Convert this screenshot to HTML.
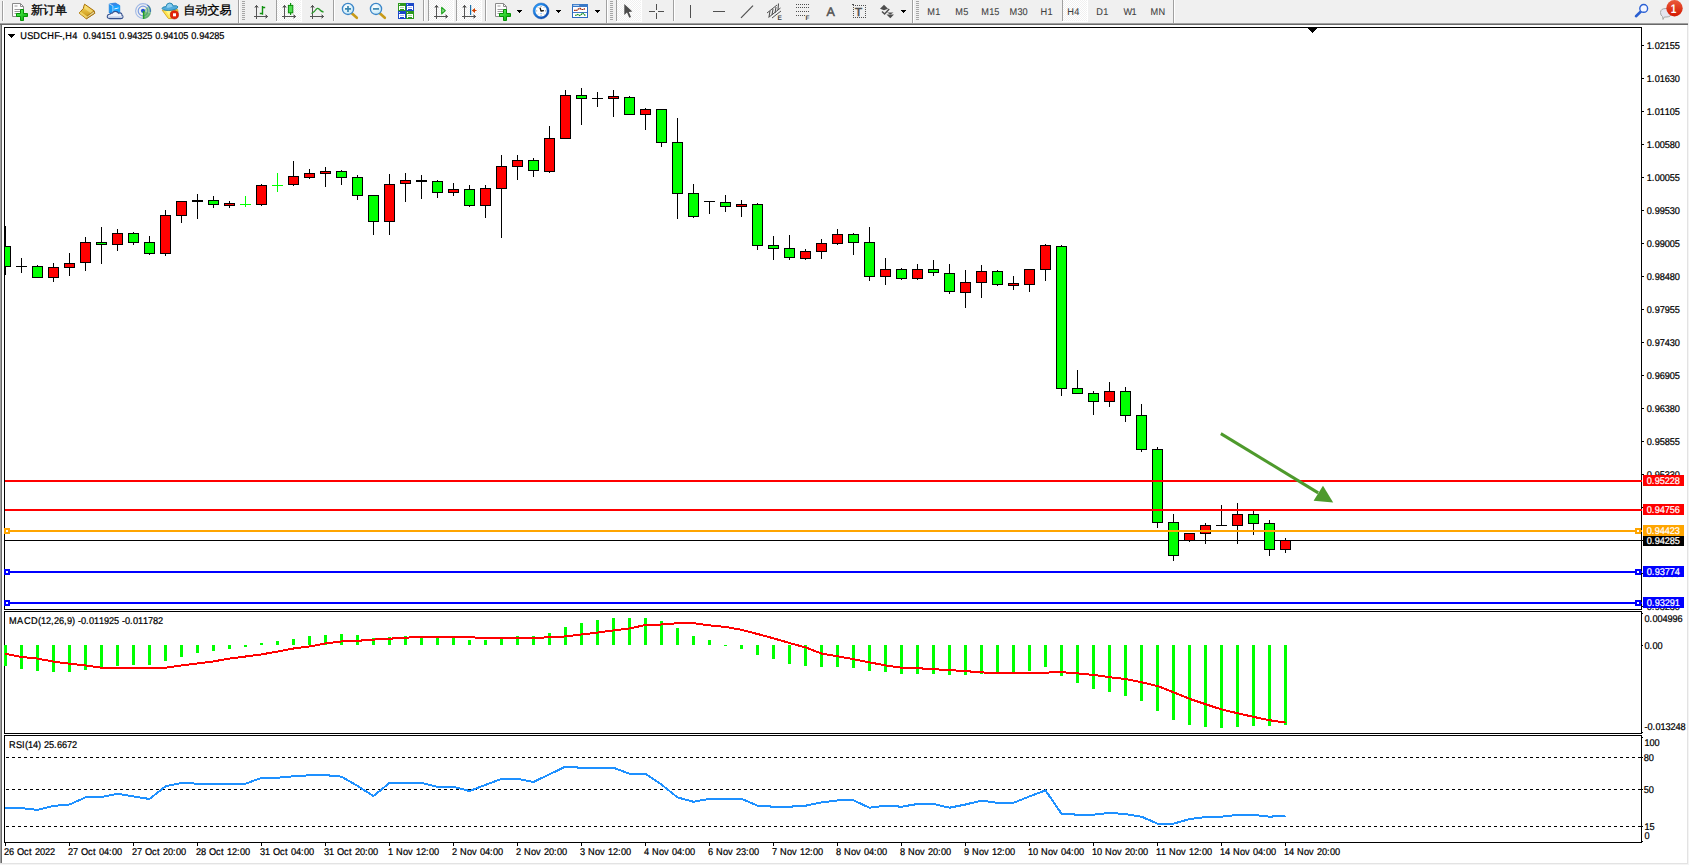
<!DOCTYPE html>
<html lang="zh"><head><meta charset="utf-8"><title>USDCHF-,H4</title>
<style>html,body{margin:0;padding:0;background:#fff}body{width:1689px;height:865px;overflow:hidden;position:relative}svg{position:absolute;left:0;top:0;display:block}text{font-family:"Liberation Sans", sans-serif;white-space:pre;text-rendering:geometricPrecision}</style></head><body>
<svg width="1689" height="865" viewBox="0 0 1689 865">
<defs><pattern id="chk" width="2" height="2" patternUnits="userSpaceOnUse"><rect width="2" height="2" fill="#fff"/><rect width="1" height="1" fill="#f0f0f0"/><rect x="1" y="1" width="1" height="1" fill="#f0f0f0"/></pattern><linearGradient id="gplus" x1="0" y1="0" x2="1" y2="1"><stop offset="0" stop-color="#5dff5d"/><stop offset="1" stop-color="#00a000"/></linearGradient><linearGradient id="gold" x1="0" y1="0" x2="0" y2="1"><stop offset="0" stop-color="#ffe060"/><stop offset="1" stop-color="#c08a10"/></linearGradient><linearGradient id="badge" x1="0" y1="0" x2="0" y2="1"><stop offset="0" stop-color="#ea5a3a"/><stop offset="1" stop-color="#d41800"/></linearGradient><linearGradient id="clk" x1="0" y1="0" x2="1" y2="1"><stop offset="0" stop-color="#2aa0ff"/><stop offset="1" stop-color="#0a44a8"/></linearGradient><radialGradient id="lens" cx="0.4" cy="0.35" r="0.7"><stop offset="0" stop-color="#ffffff"/><stop offset="1" stop-color="#bfe6f7"/></radialGradient></defs>
<g shape-rendering="crispEdges">
<rect x="0" y="0" width="1689" height="865" fill="#ffffff"/>
<rect x="0" y="0" width="1689" height="23" fill="#f0f0f0"/>
<rect x="0" y="23" width="1688" height="1" fill="#a0a0a0"/>
<rect x="0" y="24" width="1688" height="1" fill="#696969"/>
<rect x="1688" y="23" width="1" height="2" fill="#f0f0f0"/>
<rect x="0" y="25" width="1" height="838" fill="#a0a0a0"/>
<rect x="1" y="25" width="1" height="838" fill="#696969"/>
<rect x="1687" y="25" width="1" height="839" fill="#e3e3e3"/>
<rect x="1688" y="25" width="1" height="840" fill="#f4f4f4"/>
<rect x="0" y="863" width="1688" height="1" fill="#e3e3e3"/>
<rect x="0" y="864" width="1689" height="1" fill="#f4f4f4"/>
</g>
<g shape-rendering="crispEdges">
<rect x="4" y="27" width="1" height="583" fill="#000"/>
<rect x="4" y="27" width="1638" height="1" fill="#000"/>
<rect x="4" y="609" width="1638" height="1" fill="#000"/>
<rect x="4" y="611" width="1638" height="1" fill="#000"/>
<rect x="4" y="611" width="1" height="123" fill="#000"/>
<rect x="4" y="733" width="1638" height="1" fill="#000"/>
<rect x="4" y="735" width="1638" height="1" fill="#000"/>
<rect x="4" y="735" width="1" height="108" fill="#000"/>
<rect x="4" y="842" width="1638" height="1" fill="#000"/>
<rect x="1641" y="27" width="1" height="583" fill="#000"/>
<rect x="1641" y="611" width="1" height="123" fill="#000"/>
<rect x="1641" y="735" width="1" height="108" fill="#000"/>
</g>
<g shape-rendering="crispEdges">
<rect x="5" y="540" width="1636" height="1" fill="#000"/>
<rect x="5" y="226" width="1" height="49" fill="#000"/>
<rect x="5" y="246" width="6" height="21" fill="#000"/>
<rect x="5" y="247" width="5" height="19" fill="#00ff00"/>
<rect x="21" y="258" width="1" height="15" fill="#000"/>
<rect x="16" y="266" width="11" height="1" fill="#000"/>
<rect x="37" y="265" width="1" height="13" fill="#000"/>
<rect x="32" y="266" width="11" height="12" fill="#000"/>
<rect x="33" y="267" width="9" height="10" fill="#00ff00"/>
<rect x="53" y="263" width="1" height="19" fill="#000"/>
<rect x="48" y="267" width="11" height="11" fill="#000"/>
<rect x="49" y="268" width="9" height="9" fill="#ff0000"/>
<rect x="69" y="253" width="1" height="23" fill="#000"/>
<rect x="64" y="263" width="11" height="5" fill="#000"/>
<rect x="65" y="264" width="9" height="3" fill="#ff0000"/>
<rect x="85" y="237" width="1" height="34" fill="#000"/>
<rect x="80" y="242" width="11" height="21" fill="#000"/>
<rect x="81" y="243" width="9" height="19" fill="#ff0000"/>
<rect x="101" y="227" width="1" height="37" fill="#000"/>
<rect x="96" y="242" width="11" height="3" fill="#000"/>
<rect x="97" y="243" width="9" height="1" fill="#00ff00"/>
<rect x="117" y="229" width="1" height="22" fill="#000"/>
<rect x="112" y="233" width="11" height="12" fill="#000"/>
<rect x="113" y="234" width="9" height="10" fill="#ff0000"/>
<rect x="133" y="232" width="1" height="13" fill="#000"/>
<rect x="128" y="233" width="11" height="10" fill="#000"/>
<rect x="129" y="234" width="9" height="8" fill="#00ff00"/>
<rect x="149" y="236" width="1" height="19" fill="#000"/>
<rect x="144" y="242" width="11" height="12" fill="#000"/>
<rect x="145" y="243" width="9" height="10" fill="#00ff00"/>
<rect x="165" y="210" width="1" height="46" fill="#000"/>
<rect x="160" y="215" width="11" height="39" fill="#000"/>
<rect x="161" y="216" width="9" height="37" fill="#ff0000"/>
<rect x="181" y="201" width="1" height="22" fill="#000"/>
<rect x="176" y="201" width="11" height="15" fill="#000"/>
<rect x="177" y="202" width="9" height="13" fill="#ff0000"/>
<rect x="197" y="194" width="1" height="25" fill="#000"/>
<rect x="192" y="200" width="11" height="2" fill="#000"/>
<rect x="213" y="196" width="1" height="12" fill="#000"/>
<rect x="208" y="200" width="11" height="5" fill="#000"/>
<rect x="209" y="201" width="9" height="3" fill="#00ff00"/>
<rect x="229" y="201" width="1" height="7" fill="#000"/>
<rect x="224" y="203" width="11" height="3" fill="#000"/>
<rect x="225" y="204" width="9" height="1" fill="#ff0000"/>
<rect x="245" y="196" width="1" height="11" fill="#00ff00"/>
<rect x="240" y="204" width="11" height="1" fill="#00ff00"/>
<rect x="261" y="184" width="1" height="22" fill="#000"/>
<rect x="256" y="185" width="11" height="20" fill="#000"/>
<rect x="257" y="186" width="9" height="18" fill="#ff0000"/>
<rect x="277" y="173" width="1" height="19" fill="#00ff00"/>
<rect x="272" y="185" width="11" height="1" fill="#00ff00"/>
<rect x="293" y="161" width="1" height="25" fill="#000"/>
<rect x="288" y="176" width="11" height="9" fill="#000"/>
<rect x="289" y="177" width="9" height="7" fill="#ff0000"/>
<rect x="309" y="169" width="1" height="10" fill="#000"/>
<rect x="304" y="173" width="11" height="5" fill="#000"/>
<rect x="305" y="174" width="9" height="3" fill="#ff0000"/>
<rect x="325" y="167" width="1" height="20" fill="#000"/>
<rect x="320" y="171" width="11" height="3" fill="#000"/>
<rect x="321" y="172" width="9" height="1" fill="#ff0000"/>
<rect x="341" y="170" width="1" height="15" fill="#000"/>
<rect x="336" y="171" width="11" height="7" fill="#000"/>
<rect x="337" y="172" width="9" height="5" fill="#00ff00"/>
<rect x="357" y="175" width="1" height="25" fill="#000"/>
<rect x="352" y="177" width="11" height="19" fill="#000"/>
<rect x="353" y="178" width="9" height="17" fill="#00ff00"/>
<rect x="373" y="195" width="1" height="40" fill="#000"/>
<rect x="368" y="195" width="11" height="27" fill="#000"/>
<rect x="369" y="196" width="9" height="25" fill="#00ff00"/>
<rect x="389" y="174" width="1" height="61" fill="#000"/>
<rect x="384" y="184" width="11" height="38" fill="#000"/>
<rect x="385" y="185" width="9" height="36" fill="#ff0000"/>
<rect x="405" y="173" width="1" height="29" fill="#000"/>
<rect x="400" y="180" width="11" height="4" fill="#000"/>
<rect x="401" y="181" width="9" height="2" fill="#ff0000"/>
<rect x="421" y="175" width="1" height="24" fill="#000"/>
<rect x="416" y="180" width="11" height="2" fill="#000"/>
<rect x="437" y="180" width="1" height="18" fill="#000"/>
<rect x="432" y="181" width="11" height="12" fill="#000"/>
<rect x="433" y="182" width="9" height="10" fill="#00ff00"/>
<rect x="453" y="183" width="1" height="13" fill="#000"/>
<rect x="448" y="189" width="11" height="4" fill="#000"/>
<rect x="449" y="190" width="9" height="2" fill="#ff0000"/>
<rect x="469" y="185" width="1" height="22" fill="#000"/>
<rect x="464" y="189" width="11" height="17" fill="#000"/>
<rect x="465" y="190" width="9" height="15" fill="#00ff00"/>
<rect x="485" y="185" width="1" height="33" fill="#000"/>
<rect x="480" y="188" width="11" height="18" fill="#000"/>
<rect x="481" y="189" width="9" height="16" fill="#ff0000"/>
<rect x="501" y="155" width="1" height="83" fill="#000"/>
<rect x="496" y="166" width="11" height="23" fill="#000"/>
<rect x="497" y="167" width="9" height="21" fill="#ff0000"/>
<rect x="517" y="155" width="1" height="25" fill="#000"/>
<rect x="512" y="160" width="11" height="7" fill="#000"/>
<rect x="513" y="161" width="9" height="5" fill="#ff0000"/>
<rect x="533" y="158" width="1" height="19" fill="#000"/>
<rect x="528" y="160" width="11" height="11" fill="#000"/>
<rect x="529" y="161" width="9" height="9" fill="#00ff00"/>
<rect x="549" y="126" width="1" height="47" fill="#000"/>
<rect x="544" y="138" width="11" height="34" fill="#000"/>
<rect x="545" y="139" width="9" height="32" fill="#ff0000"/>
<rect x="565" y="90" width="1" height="48" fill="#000"/>
<rect x="560" y="95" width="11" height="44" fill="#000"/>
<rect x="561" y="96" width="9" height="42" fill="#ff0000"/>
<rect x="581" y="88" width="1" height="37" fill="#000"/>
<rect x="576" y="95" width="11" height="4" fill="#000"/>
<rect x="577" y="96" width="9" height="2" fill="#00ff00"/>
<rect x="597" y="92" width="1" height="15" fill="#000"/>
<rect x="592" y="98" width="11" height="1" fill="#000"/>
<rect x="613" y="90" width="1" height="27" fill="#000"/>
<rect x="608" y="96" width="11" height="3" fill="#000"/>
<rect x="609" y="97" width="9" height="1" fill="#ff0000"/>
<rect x="629" y="96" width="1" height="18" fill="#000"/>
<rect x="624" y="97" width="11" height="18" fill="#000"/>
<rect x="625" y="98" width="9" height="16" fill="#00ff00"/>
<rect x="645" y="108" width="1" height="22" fill="#000"/>
<rect x="640" y="109" width="11" height="6" fill="#000"/>
<rect x="641" y="110" width="9" height="4" fill="#ff0000"/>
<rect x="661" y="109" width="1" height="38" fill="#000"/>
<rect x="656" y="109" width="11" height="34" fill="#000"/>
<rect x="657" y="110" width="9" height="32" fill="#00ff00"/>
<rect x="677" y="118" width="1" height="101" fill="#000"/>
<rect x="672" y="142" width="11" height="52" fill="#000"/>
<rect x="673" y="143" width="9" height="50" fill="#00ff00"/>
<rect x="693" y="184" width="1" height="34" fill="#000"/>
<rect x="688" y="193" width="11" height="24" fill="#000"/>
<rect x="689" y="194" width="9" height="22" fill="#00ff00"/>
<rect x="709" y="201" width="1" height="13" fill="#000"/>
<rect x="704" y="201" width="11" height="1" fill="#000"/>
<rect x="725" y="195" width="1" height="17" fill="#000"/>
<rect x="720" y="202" width="11" height="5" fill="#000"/>
<rect x="721" y="203" width="9" height="3" fill="#00ff00"/>
<rect x="741" y="200" width="1" height="17" fill="#000"/>
<rect x="736" y="204" width="11" height="3" fill="#000"/>
<rect x="737" y="205" width="9" height="1" fill="#ff0000"/>
<rect x="757" y="203" width="1" height="47" fill="#000"/>
<rect x="752" y="204" width="11" height="42" fill="#000"/>
<rect x="753" y="205" width="9" height="40" fill="#00ff00"/>
<rect x="773" y="236" width="1" height="24" fill="#000"/>
<rect x="768" y="245" width="11" height="4" fill="#000"/>
<rect x="769" y="246" width="9" height="2" fill="#00ff00"/>
<rect x="789" y="235" width="1" height="25" fill="#000"/>
<rect x="784" y="248" width="11" height="10" fill="#000"/>
<rect x="785" y="249" width="9" height="8" fill="#00ff00"/>
<rect x="805" y="249" width="1" height="11" fill="#000"/>
<rect x="800" y="251" width="11" height="8" fill="#000"/>
<rect x="801" y="252" width="9" height="6" fill="#ff0000"/>
<rect x="821" y="239" width="1" height="20" fill="#000"/>
<rect x="816" y="243" width="11" height="9" fill="#000"/>
<rect x="817" y="244" width="9" height="7" fill="#ff0000"/>
<rect x="837" y="229" width="1" height="16" fill="#000"/>
<rect x="832" y="234" width="11" height="10" fill="#000"/>
<rect x="833" y="235" width="9" height="8" fill="#ff0000"/>
<rect x="853" y="233" width="1" height="22" fill="#000"/>
<rect x="848" y="234" width="11" height="9" fill="#000"/>
<rect x="849" y="235" width="9" height="7" fill="#00ff00"/>
<rect x="869" y="227" width="1" height="54" fill="#000"/>
<rect x="864" y="242" width="11" height="35" fill="#000"/>
<rect x="865" y="243" width="9" height="33" fill="#00ff00"/>
<rect x="885" y="258" width="1" height="27" fill="#000"/>
<rect x="880" y="269" width="11" height="8" fill="#000"/>
<rect x="881" y="270" width="9" height="6" fill="#ff0000"/>
<rect x="901" y="268" width="1" height="12" fill="#000"/>
<rect x="896" y="269" width="11" height="10" fill="#000"/>
<rect x="897" y="270" width="9" height="8" fill="#00ff00"/>
<rect x="917" y="264" width="1" height="16" fill="#000"/>
<rect x="912" y="269" width="11" height="10" fill="#000"/>
<rect x="913" y="270" width="9" height="8" fill="#ff0000"/>
<rect x="933" y="260" width="1" height="16" fill="#000"/>
<rect x="928" y="269" width="11" height="4" fill="#000"/>
<rect x="929" y="270" width="9" height="2" fill="#00ff00"/>
<rect x="949" y="264" width="1" height="30" fill="#000"/>
<rect x="944" y="273" width="11" height="19" fill="#000"/>
<rect x="945" y="274" width="9" height="17" fill="#00ff00"/>
<rect x="965" y="270" width="1" height="38" fill="#000"/>
<rect x="960" y="282" width="11" height="11" fill="#000"/>
<rect x="961" y="283" width="9" height="9" fill="#ff0000"/>
<rect x="981" y="265" width="1" height="33" fill="#000"/>
<rect x="976" y="271" width="11" height="12" fill="#000"/>
<rect x="977" y="272" width="9" height="10" fill="#ff0000"/>
<rect x="997" y="270" width="1" height="16" fill="#000"/>
<rect x="992" y="271" width="11" height="14" fill="#000"/>
<rect x="993" y="272" width="9" height="12" fill="#00ff00"/>
<rect x="1013" y="276" width="1" height="14" fill="#000"/>
<rect x="1008" y="283" width="11" height="3" fill="#000"/>
<rect x="1009" y="284" width="9" height="1" fill="#ff0000"/>
<rect x="1029" y="269" width="1" height="23" fill="#000"/>
<rect x="1024" y="269" width="11" height="16" fill="#000"/>
<rect x="1025" y="270" width="9" height="14" fill="#ff0000"/>
<rect x="1045" y="244" width="1" height="37" fill="#000"/>
<rect x="1040" y="245" width="11" height="25" fill="#000"/>
<rect x="1041" y="246" width="9" height="23" fill="#ff0000"/>
<rect x="1061" y="245" width="1" height="151" fill="#000"/>
<rect x="1056" y="246" width="11" height="143" fill="#000"/>
<rect x="1057" y="247" width="9" height="141" fill="#00ff00"/>
<rect x="1077" y="370" width="1" height="24" fill="#000"/>
<rect x="1072" y="388" width="11" height="6" fill="#000"/>
<rect x="1073" y="389" width="9" height="4" fill="#00ff00"/>
<rect x="1093" y="391" width="1" height="24" fill="#000"/>
<rect x="1088" y="393" width="11" height="9" fill="#000"/>
<rect x="1089" y="394" width="9" height="7" fill="#00ff00"/>
<rect x="1109" y="382" width="1" height="25" fill="#000"/>
<rect x="1104" y="391" width="11" height="11" fill="#000"/>
<rect x="1105" y="392" width="9" height="9" fill="#ff0000"/>
<rect x="1125" y="387" width="1" height="35" fill="#000"/>
<rect x="1120" y="391" width="11" height="25" fill="#000"/>
<rect x="1121" y="392" width="9" height="23" fill="#00ff00"/>
<rect x="1141" y="404" width="1" height="48" fill="#000"/>
<rect x="1136" y="415" width="11" height="35" fill="#000"/>
<rect x="1137" y="416" width="9" height="33" fill="#00ff00"/>
<rect x="1157" y="447" width="1" height="81" fill="#000"/>
<rect x="1152" y="449" width="11" height="74" fill="#000"/>
<rect x="1153" y="450" width="9" height="72" fill="#00ff00"/>
<rect x="1173" y="514" width="1" height="47" fill="#000"/>
<rect x="1168" y="522" width="11" height="34" fill="#000"/>
<rect x="1169" y="523" width="9" height="32" fill="#00ff00"/>
<rect x="1189" y="533" width="1" height="9" fill="#000"/>
<rect x="1184" y="533" width="11" height="8" fill="#000"/>
<rect x="1185" y="534" width="9" height="6" fill="#ff0000"/>
<rect x="1205" y="523" width="1" height="21" fill="#000"/>
<rect x="1200" y="525" width="11" height="9" fill="#000"/>
<rect x="1201" y="526" width="9" height="7" fill="#ff0000"/>
<rect x="1221" y="505" width="1" height="20" fill="#000"/>
<rect x="1216" y="525" width="11" height="1" fill="#000"/>
<rect x="1237" y="503" width="1" height="41" fill="#000"/>
<rect x="1232" y="514" width="11" height="12" fill="#000"/>
<rect x="1233" y="515" width="9" height="10" fill="#ff0000"/>
<rect x="1253" y="511" width="1" height="24" fill="#000"/>
<rect x="1248" y="514" width="11" height="10" fill="#000"/>
<rect x="1249" y="515" width="9" height="8" fill="#00ff00"/>
<rect x="1269" y="520" width="1" height="36" fill="#000"/>
<rect x="1264" y="523" width="11" height="27" fill="#000"/>
<rect x="1265" y="524" width="9" height="25" fill="#00ff00"/>
<rect x="1285" y="538" width="1" height="15" fill="#000"/>
<rect x="1280" y="540" width="11" height="10" fill="#000"/>
<rect x="1281" y="541" width="9" height="8" fill="#ff0000"/>
</g>
<g shape-rendering="crispEdges">
<rect x="5" y="480" width="1637" height="2" fill="#ff0000"/>
<rect x="5" y="509" width="1637" height="2" fill="#ff0000"/>
<rect x="5" y="530" width="1637" height="2" fill="#ffa500"/>
<rect x="4" y="528" width="6" height="6" fill="#ffa500"/>
<rect x="6" y="530" width="2" height="2" fill="#fff"/>
<rect x="1635" y="528" width="6" height="6" fill="#ffa500"/>
<rect x="1637" y="530" width="2" height="2" fill="#fff"/>
<rect x="5" y="571" width="1637" height="2" fill="#0000ff"/>
<rect x="4" y="569" width="6" height="6" fill="#0000ff"/>
<rect x="6" y="571" width="2" height="2" fill="#fff"/>
<rect x="1635" y="569" width="6" height="6" fill="#0000ff"/>
<rect x="1637" y="571" width="2" height="2" fill="#fff"/>
<rect x="5" y="602" width="1637" height="2" fill="#0000ff"/>
<rect x="4" y="600" width="6" height="6" fill="#0000ff"/>
<rect x="6" y="602" width="2" height="2" fill="#fff"/>
<rect x="1635" y="600" width="6" height="6" fill="#0000ff"/>
<rect x="1637" y="602" width="2" height="2" fill="#fff"/>
</g>
<g fill="#4e9a2c" stroke="none">
<path d="M1220.1 434.9 L1221.6 432.3 L1319.0 491.6 L1317.4 494.2 Z"/>
<path d="M1333.2 502.6 L1323.0 485.8 L1313.6 500.7 Z"/>
</g>
<g shape-rendering="crispEdges">
<rect x="4" y="645" width="3" height="21" fill="#00ff00"/>
<rect x="20" y="645" width="3" height="24" fill="#00ff00"/>
<rect x="36" y="645" width="3" height="26" fill="#00ff00"/>
<rect x="52" y="645" width="3" height="27" fill="#00ff00"/>
<rect x="68" y="645" width="3" height="27" fill="#00ff00"/>
<rect x="84" y="645" width="3" height="25" fill="#00ff00"/>
<rect x="100" y="645" width="3" height="22" fill="#00ff00"/>
<rect x="116" y="645" width="3" height="21" fill="#00ff00"/>
<rect x="132" y="645" width="3" height="20" fill="#00ff00"/>
<rect x="148" y="645" width="3" height="20" fill="#00ff00"/>
<rect x="164" y="645" width="3" height="16" fill="#00ff00"/>
<rect x="180" y="645" width="3" height="12" fill="#00ff00"/>
<rect x="196" y="645" width="3" height="8" fill="#00ff00"/>
<rect x="212" y="645" width="3" height="6" fill="#00ff00"/>
<rect x="228" y="645" width="3" height="4" fill="#00ff00"/>
<rect x="244" y="645" width="3" height="2" fill="#00ff00"/>
<rect x="260" y="643" width="3" height="2" fill="#00ff00"/>
<rect x="276" y="641" width="3" height="4" fill="#00ff00"/>
<rect x="292" y="639" width="3" height="6" fill="#00ff00"/>
<rect x="308" y="636" width="3" height="9" fill="#00ff00"/>
<rect x="324" y="635" width="3" height="10" fill="#00ff00"/>
<rect x="340" y="634" width="3" height="11" fill="#00ff00"/>
<rect x="356" y="635" width="3" height="10" fill="#00ff00"/>
<rect x="372" y="638" width="3" height="7" fill="#00ff00"/>
<rect x="388" y="637" width="3" height="8" fill="#00ff00"/>
<rect x="404" y="636" width="3" height="9" fill="#00ff00"/>
<rect x="420" y="636" width="3" height="9" fill="#00ff00"/>
<rect x="436" y="636" width="3" height="9" fill="#00ff00"/>
<rect x="452" y="636" width="3" height="9" fill="#00ff00"/>
<rect x="468" y="640" width="3" height="5" fill="#00ff00"/>
<rect x="484" y="640" width="3" height="5" fill="#00ff00"/>
<rect x="500" y="637" width="3" height="8" fill="#00ff00"/>
<rect x="516" y="636" width="3" height="9" fill="#00ff00"/>
<rect x="532" y="636" width="3" height="9" fill="#00ff00"/>
<rect x="548" y="633" width="3" height="12" fill="#00ff00"/>
<rect x="564" y="627" width="3" height="18" fill="#00ff00"/>
<rect x="580" y="623" width="3" height="22" fill="#00ff00"/>
<rect x="596" y="620" width="3" height="25" fill="#00ff00"/>
<rect x="612" y="618" width="3" height="27" fill="#00ff00"/>
<rect x="628" y="618" width="3" height="27" fill="#00ff00"/>
<rect x="644" y="618" width="3" height="27" fill="#00ff00"/>
<rect x="660" y="621" width="3" height="24" fill="#00ff00"/>
<rect x="676" y="628" width="3" height="17" fill="#00ff00"/>
<rect x="692" y="636" width="3" height="9" fill="#00ff00"/>
<rect x="708" y="640" width="3" height="5" fill="#00ff00"/>
<rect x="724" y="645" width="3" height="1" fill="#00ff00"/>
<rect x="740" y="645" width="3" height="4" fill="#00ff00"/>
<rect x="756" y="645" width="3" height="10" fill="#00ff00"/>
<rect x="772" y="645" width="3" height="14" fill="#00ff00"/>
<rect x="788" y="645" width="3" height="19" fill="#00ff00"/>
<rect x="804" y="645" width="3" height="21" fill="#00ff00"/>
<rect x="820" y="645" width="3" height="22" fill="#00ff00"/>
<rect x="836" y="645" width="3" height="22" fill="#00ff00"/>
<rect x="852" y="645" width="3" height="23" fill="#00ff00"/>
<rect x="868" y="645" width="3" height="26" fill="#00ff00"/>
<rect x="884" y="645" width="3" height="27" fill="#00ff00"/>
<rect x="900" y="645" width="3" height="29" fill="#00ff00"/>
<rect x="916" y="645" width="3" height="29" fill="#00ff00"/>
<rect x="932" y="645" width="3" height="29" fill="#00ff00"/>
<rect x="948" y="645" width="3" height="30" fill="#00ff00"/>
<rect x="964" y="645" width="3" height="30" fill="#00ff00"/>
<rect x="980" y="645" width="3" height="29" fill="#00ff00"/>
<rect x="996" y="645" width="3" height="28" fill="#00ff00"/>
<rect x="1012" y="645" width="3" height="28" fill="#00ff00"/>
<rect x="1028" y="645" width="3" height="26" fill="#00ff00"/>
<rect x="1044" y="645" width="3" height="22" fill="#00ff00"/>
<rect x="1060" y="645" width="3" height="31" fill="#00ff00"/>
<rect x="1076" y="645" width="3" height="38" fill="#00ff00"/>
<rect x="1092" y="645" width="3" height="44" fill="#00ff00"/>
<rect x="1108" y="645" width="3" height="47" fill="#00ff00"/>
<rect x="1124" y="645" width="3" height="51" fill="#00ff00"/>
<rect x="1140" y="645" width="3" height="56" fill="#00ff00"/>
<rect x="1156" y="645" width="3" height="66" fill="#00ff00"/>
<rect x="1172" y="645" width="3" height="75" fill="#00ff00"/>
<rect x="1188" y="645" width="3" height="80" fill="#00ff00"/>
<rect x="1204" y="645" width="3" height="82" fill="#00ff00"/>
<rect x="1220" y="645" width="3" height="83" fill="#00ff00"/>
<rect x="1236" y="645" width="3" height="82" fill="#00ff00"/>
<rect x="1252" y="645" width="3" height="81" fill="#00ff00"/>
<rect x="1268" y="645" width="3" height="81" fill="#00ff00"/>
<rect x="1284" y="645" width="3" height="80" fill="#00ff00"/>
</g>
<polyline points="5,653.9 5.5,653.9 21.5,656.9 37.5,658.6 53.5,661.6 69.5,663.7 85.5,665.4 101.5,667.7 117.5,667.9 133.5,667.9 149.5,667.9 165.5,667.7 181.5,665.4 197.5,663.5 213.5,661.4 229.5,658.6 245.5,656.5 261.5,654.4 277.5,651.6 293.5,648.5 309.5,646.5 325.5,643.4 341.5,641.5 357.5,640.8 373.5,639.6 389.5,638.7 405.5,637.7 421.5,636.8 437.5,636.8 453.5,636.8 469.5,637.4 485.5,637.7 501.5,637.7 517.5,637.7 533.5,637.7 549.5,637.4 565.5,636.4 581.5,634.5 597.5,632.6 613.5,630.4 629.5,628.5 645.5,625.0 661.5,624.5 677.5,623.2 693.5,623.2 709.5,625.4 725.5,626.9 741.5,629.8 757.5,634.0 773.5,638.3 789.5,643.0 805.5,647.4 821.5,653.5 837.5,656.3 853.5,659.2 869.5,662.4 885.5,665.4 901.5,667.7 917.5,668.2 933.5,669.2 949.5,670.1 965.5,671.1 981.5,672.4 997.5,673.0 1013.5,673.0 1029.5,673.0 1045.5,672.6 1061.5,672.2 1077.5,673.4 1093.5,674.9 1109.5,677.2 1125.5,679.0 1141.5,682.3 1157.5,686.0 1173.5,692.3 1189.5,698.8 1205.5,704.2 1221.5,709.4 1237.5,713.2 1253.5,716.9 1269.5,720.2 1285.5,722.6" fill="none" stroke="#ff0000" stroke-width="2" stroke-linejoin="round" shape-rendering="crispEdges"/>
<g shape-rendering="crispEdges" stroke="#000" stroke-width="1" stroke-dasharray="3 3">
<line x1="6" y1="757.5" x2="1641" y2="757.5"/>
<line x1="6" y1="789.5" x2="1641" y2="789.5"/>
<line x1="6" y1="826.5" x2="1641" y2="826.5"/>
</g>
<polyline points="5,808.1 5.5,808.1 21.5,808.1 37.5,809.9 53.5,805.9 69.5,804.5 85.5,797.4 101.5,797.0 117.5,793.8 133.5,796.4 149.5,799.0 165.5,786.3 181.5,782.9 197.5,783.7 213.5,783.7 229.5,783.7 245.5,783.7 261.5,777.9 277.5,777.7 293.5,776.3 309.5,775.3 325.5,775.1 341.5,776.7 357.5,785.9 373.5,796.0 389.5,782.9 405.5,782.9 421.5,782.9 437.5,786.9 453.5,786.9 469.5,791.0 485.5,784.9 501.5,778.9 517.5,778.9 533.5,781.9 549.5,774.3 565.5,766.6 581.5,767.8 597.5,767.8 613.5,767.8 629.5,773.7 645.5,773.8 661.5,784.6 677.5,797.4 693.5,801.8 709.5,798.8 725.5,798.8 741.5,798.8 757.5,805.7 773.5,806.7 789.5,806.7 805.5,805.7 821.5,802.4 837.5,800.4 853.5,800.4 869.5,807.7 885.5,805.7 901.5,806.7 917.5,804.0 933.5,804.0 949.5,807.7 965.5,804.5 981.5,800.6 997.5,802.8 1013.5,802.8 1029.5,796.4 1045.5,790.4 1061.5,813.7 1077.5,814.7 1093.5,814.7 1109.5,812.9 1125.5,814.1 1141.5,816.7 1157.5,823.6 1173.5,823.6 1189.5,819.1 1205.5,817.1 1221.5,816.7 1237.5,814.9 1253.5,814.9 1269.5,816.7 1285.5,815.7" fill="none" stroke="#1e90ff" stroke-width="2" stroke-linejoin="round" shape-rendering="crispEdges"/>
<g shape-rendering="crispEdges">
<rect x="1642" y="45" width="2" height="1" fill="#000"/>
<rect x="1642" y="78" width="2" height="1" fill="#000"/>
<rect x="1642" y="111" width="2" height="1" fill="#000"/>
<rect x="1642" y="144" width="2" height="1" fill="#000"/>
<rect x="1642" y="177" width="2" height="1" fill="#000"/>
<rect x="1642" y="210" width="2" height="1" fill="#000"/>
<rect x="1642" y="243" width="2" height="1" fill="#000"/>
<rect x="1642" y="276" width="2" height="1" fill="#000"/>
<rect x="1642" y="309" width="2" height="1" fill="#000"/>
<rect x="1642" y="342" width="2" height="1" fill="#000"/>
<rect x="1642" y="375" width="2" height="1" fill="#000"/>
<rect x="1642" y="408" width="2" height="1" fill="#000"/>
<rect x="1642" y="441" width="2" height="1" fill="#000"/>
<rect x="1642" y="474" width="2" height="1" fill="#000"/>
<rect x="1642" y="507" width="2" height="1" fill="#000"/>
<rect x="1642" y="540" width="2" height="1" fill="#000"/>
<rect x="1642" y="573" width="2" height="1" fill="#000"/>
<rect x="1642" y="606" width="2" height="1" fill="#000"/>
<rect x="1642" y="613" width="1" height="1" fill="#000"/>
<rect x="1642" y="645" width="1" height="1" fill="#000"/>
<rect x="1642" y="732" width="1" height="1" fill="#000"/>
<rect x="1642" y="737" width="1" height="1" fill="#000"/>
<rect x="1642" y="757" width="1" height="1" fill="#000"/>
<rect x="1642" y="789" width="1" height="1" fill="#000"/>
<rect x="1642" y="826" width="1" height="1" fill="#000"/>
<rect x="1642" y="841" width="1" height="1" fill="#000"/>
<rect x="5" y="843" width="1" height="3" fill="#000"/>
<rect x="69" y="843" width="1" height="3" fill="#000"/>
<rect x="133" y="843" width="1" height="3" fill="#000"/>
<rect x="197" y="843" width="1" height="3" fill="#000"/>
<rect x="261" y="843" width="1" height="3" fill="#000"/>
<rect x="325" y="843" width="1" height="3" fill="#000"/>
<rect x="389" y="843" width="1" height="3" fill="#000"/>
<rect x="453" y="843" width="1" height="3" fill="#000"/>
<rect x="517" y="843" width="1" height="3" fill="#000"/>
<rect x="581" y="843" width="1" height="3" fill="#000"/>
<rect x="645" y="843" width="1" height="3" fill="#000"/>
<rect x="709" y="843" width="1" height="3" fill="#000"/>
<rect x="773" y="843" width="1" height="3" fill="#000"/>
<rect x="837" y="843" width="1" height="3" fill="#000"/>
<rect x="901" y="843" width="1" height="3" fill="#000"/>
<rect x="965" y="843" width="1" height="3" fill="#000"/>
<rect x="1029" y="843" width="1" height="3" fill="#000"/>
<rect x="1093" y="843" width="1" height="3" fill="#000"/>
<rect x="1157" y="843" width="1" height="3" fill="#000"/>
<rect x="1221" y="843" width="1" height="3" fill="#000"/>
<rect x="1285" y="843" width="1" height="3" fill="#000"/>
</g>
<g>
<text x="1646.8 1651.8 1654.8 1659.8 1664.8 1669.8 1674.8" y="49" font-size="9.2" fill="#000" stroke="#000" stroke-width="0.22" transform="matrix(1 0 0 1.065 0 -3.185)">1.02155</text>
<text x="1646.8 1651.8 1654.8 1659.8 1664.8 1669.8 1674.8" y="82" font-size="9.2" fill="#000" stroke="#000" stroke-width="0.22" transform="matrix(1 0 0 1.065 0 -5.330)">1.01630</text>
<text x="1646.8 1651.8 1654.8 1659.8 1664.8 1669.8 1674.8" y="115" font-size="9.2" fill="#000" stroke="#000" stroke-width="0.22" transform="matrix(1 0 0 1.065 0 -7.475)">1.01105</text>
<text x="1646.8 1651.8 1654.8 1659.8 1664.8 1669.8 1674.8" y="148" font-size="9.2" fill="#000" stroke="#000" stroke-width="0.22" transform="matrix(1 0 0 1.065 0 -9.620)">1.00580</text>
<text x="1646.8 1651.8 1654.8 1659.8 1664.8 1669.8 1674.8" y="181" font-size="9.2" fill="#000" stroke="#000" stroke-width="0.22" transform="matrix(1 0 0 1.065 0 -11.765)">1.00055</text>
<text x="1646.8 1651.8 1654.8 1659.8 1664.8 1669.8 1674.8" y="214" font-size="9.2" fill="#000" stroke="#000" stroke-width="0.22" transform="matrix(1 0 0 1.065 0 -13.910)">0.99530</text>
<text x="1646.8 1651.8 1654.8 1659.8 1664.8 1669.8 1674.8" y="247" font-size="9.2" fill="#000" stroke="#000" stroke-width="0.22" transform="matrix(1 0 0 1.065 0 -16.055)">0.99005</text>
<text x="1646.8 1651.8 1654.8 1659.8 1664.8 1669.8 1674.8" y="280" font-size="9.2" fill="#000" stroke="#000" stroke-width="0.22" transform="matrix(1 0 0 1.065 0 -18.200)">0.98480</text>
<text x="1646.8 1651.8 1654.8 1659.8 1664.8 1669.8 1674.8" y="313" font-size="9.2" fill="#000" stroke="#000" stroke-width="0.22" transform="matrix(1 0 0 1.065 0 -20.345)">0.97955</text>
<text x="1646.8 1651.8 1654.8 1659.8 1664.8 1669.8 1674.8" y="346" font-size="9.2" fill="#000" stroke="#000" stroke-width="0.22" transform="matrix(1 0 0 1.065 0 -22.490)">0.97430</text>
<text x="1646.8 1651.8 1654.8 1659.8 1664.8 1669.8 1674.8" y="379" font-size="9.2" fill="#000" stroke="#000" stroke-width="0.22" transform="matrix(1 0 0 1.065 0 -24.635)">0.96905</text>
<text x="1646.8 1651.8 1654.8 1659.8 1664.8 1669.8 1674.8" y="412" font-size="9.2" fill="#000" stroke="#000" stroke-width="0.22" transform="matrix(1 0 0 1.065 0 -26.780)">0.96380</text>
<text x="1646.8 1651.8 1654.8 1659.8 1664.8 1669.8 1674.8" y="445" font-size="9.2" fill="#000" stroke="#000" stroke-width="0.22" transform="matrix(1 0 0 1.065 0 -28.925)">0.95855</text>
<text x="1646.8 1651.8 1654.8 1659.8 1664.8 1669.8 1674.8" y="478" font-size="9.2" fill="#000" stroke="#000" stroke-width="0.22" transform="matrix(1 0 0 1.065 0 -31.070)">0.95330</text>
<text x="1646.8 1651.8 1654.8 1659.8 1664.8 1669.8 1674.8" y="511" font-size="9.2" fill="#000" stroke="#000" stroke-width="0.22" transform="matrix(1 0 0 1.065 0 -33.215)">0.94805</text>
<text x="1646.8 1651.8 1654.8 1659.8 1664.8 1669.8 1674.8" y="544" font-size="9.2" fill="#000" stroke="#000" stroke-width="0.22" transform="matrix(1 0 0 1.065 0 -35.360)">0.94280</text>
<text x="1646.8 1651.8 1654.8 1659.8 1664.8 1669.8 1674.8" y="577" font-size="9.2" fill="#000" stroke="#000" stroke-width="0.22" transform="matrix(1 0 0 1.065 0 -37.505)">0.93755</text>
<text x="1646.8 1651.8 1654.8 1659.8 1664.8 1669.8 1674.8" y="610" font-size="9.2" fill="#000" stroke="#000" stroke-width="0.22" transform="matrix(1 0 0 1.065 0 -39.650)">0.93230</text>
<text x="1644.4 1649.4 1652.4 1657.4 1662.4 1667.4 1672.4 1677.4" y="622" font-size="9.2" fill="#000" stroke="#000" stroke-width="0.22" transform="matrix(1 0 0 1.065 0 -40.430)">0.004996</text>
<text x="1644.4 1649.4 1652.4 1657.4" y="649" font-size="9.2" fill="#000" stroke="#000" stroke-width="0.22" transform="matrix(1 0 0 1.065 0 -42.185)">0.00</text>
<text x="1644.6 1647.6 1652.6 1655.6 1660.6 1665.6 1670.6 1675.6 1680.6" y="730" font-size="9.2" fill="#000" stroke="#000" stroke-width="0.22" transform="matrix(1 0 0 1.065 0 -47.450)">-0.013248</text>
<text x="1644.4 1649.4 1654.4" y="746" font-size="9.2" fill="#000" stroke="#000" stroke-width="0.22" transform="matrix(1 0 0 1.065 0 -48.490)">100</text>
<text x="1643.7 1648.7" y="761" font-size="9.2" fill="#000" stroke="#000" stroke-width="0.22" transform="matrix(1 0 0 1.065 0 -49.465)">80</text>
<text x="1643.7 1648.7" y="793" font-size="9.2" fill="#000" stroke="#000" stroke-width="0.22" transform="matrix(1 0 0 1.065 0 -51.545)">50</text>
<text x="1644.4 1649.4" y="830" font-size="9.2" fill="#000" stroke="#000" stroke-width="0.22" transform="matrix(1 0 0 1.065 0 -53.950)">15</text>
<text x="1644.4" y="839" font-size="9.2" fill="#000" stroke="#000" stroke-width="0.22" transform="matrix(1 0 0 1.065 0 -54.535)">0</text>
</g>
<g shape-rendering="crispEdges">
<rect x="1643" y="475" width="41" height="11" fill="#ff0000"/>
<rect x="1643" y="504" width="41" height="11" fill="#ff0000"/>
<rect x="1643" y="525" width="41" height="11" fill="#ffa500"/>
<rect x="1643" y="536" width="41" height="10" fill="#000"/>
<rect x="1643" y="566" width="41" height="11" fill="#0000ff"/>
<rect x="1643" y="597" width="41" height="11" fill="#0000ff"/>
</g><g>
<text x="1646.8 1651.8 1654.8 1659.8 1664.8 1669.8 1674.8" y="484" font-size="9.2" fill="#fff" stroke="#fff" stroke-width="0.22" transform="matrix(1 0 0 1.065 0 -31.460)">0.95228</text>
<text x="1646.8 1651.8 1654.8 1659.8 1664.8 1669.8 1674.8" y="513" font-size="9.2" fill="#fff" stroke="#fff" stroke-width="0.22" transform="matrix(1 0 0 1.065 0 -33.345)">0.94756</text>
<text x="1646.8 1651.8 1654.8 1659.8 1664.8 1669.8 1674.8" y="534" font-size="9.2" fill="#fff" stroke="#fff" stroke-width="0.22" transform="matrix(1 0 0 1.065 0 -34.710)">0.94423</text>
<text x="1646.8 1651.8 1654.8 1659.8 1664.8 1669.8 1674.8" y="544" font-size="9.2" fill="#fff" stroke="#fff" stroke-width="0.22" transform="matrix(1 0 0 1.065 0 -35.360)">0.94285</text>
<text x="1646.8 1651.8 1654.8 1659.8 1664.8 1669.8 1674.8" y="575" font-size="9.2" fill="#fff" stroke="#fff" stroke-width="0.22" transform="matrix(1 0 0 1.065 0 -37.375)">0.93774</text>
<text x="1646.8 1651.8 1654.8 1659.8 1664.8 1669.8 1674.8" y="606" font-size="9.2" fill="#fff" stroke="#fff" stroke-width="0.22" transform="matrix(1 0 0 1.065 0 -39.390)">0.93291</text>
</g>
<g>
<text x="4 9 14 17 24 29 32 35 40 45 50" y="855" font-size="9.2" fill="#000" stroke="#000" stroke-width="0.22" transform="matrix(1 0 0 1.065 0 -55.575)">26 Oct 2022</text>
<text x="68 73 78 81 88 93 96 99 104 109 112 117" y="855" font-size="9.2" fill="#000" stroke="#000" stroke-width="0.22" transform="matrix(1 0 0 1.065 0 -55.575)">27 Oct 04:00</text>
<text x="132 137 142 145 152 157 160 163 168 173 176 181" y="855" font-size="9.2" fill="#000" stroke="#000" stroke-width="0.22" transform="matrix(1 0 0 1.065 0 -55.575)">27 Oct 20:00</text>
<text x="196 201 206 209 216 221 224 227 232 237 240 245" y="855" font-size="9.2" fill="#000" stroke="#000" stroke-width="0.22" transform="matrix(1 0 0 1.065 0 -55.575)">28 Oct 12:00</text>
<text x="260 265 270 273 280 285 288 291 296 301 304 309" y="855" font-size="9.2" fill="#000" stroke="#000" stroke-width="0.22" transform="matrix(1 0 0 1.065 0 -55.575)">31 Oct 04:00</text>
<text x="324 329 334 337 344 349 352 355 360 365 368 373" y="855" font-size="9.2" fill="#000" stroke="#000" stroke-width="0.22" transform="matrix(1 0 0 1.065 0 -55.575)">31 Oct 20:00</text>
<text x="388 393 396 403 408 413 416 421 426 429 434" y="855" font-size="9.2" fill="#000" stroke="#000" stroke-width="0.22" transform="matrix(1 0 0 1.065 0 -55.575)">1 Nov 12:00</text>
<text x="452 457 460 467 472 477 480 485 490 493 498" y="855" font-size="9.2" fill="#000" stroke="#000" stroke-width="0.22" transform="matrix(1 0 0 1.065 0 -55.575)">2 Nov 04:00</text>
<text x="516 521 524 531 536 541 544 549 554 557 562" y="855" font-size="9.2" fill="#000" stroke="#000" stroke-width="0.22" transform="matrix(1 0 0 1.065 0 -55.575)">2 Nov 20:00</text>
<text x="580 585 588 595 600 605 608 613 618 621 626" y="855" font-size="9.2" fill="#000" stroke="#000" stroke-width="0.22" transform="matrix(1 0 0 1.065 0 -55.575)">3 Nov 12:00</text>
<text x="644 649 652 659 664 669 672 677 682 685 690" y="855" font-size="9.2" fill="#000" stroke="#000" stroke-width="0.22" transform="matrix(1 0 0 1.065 0 -55.575)">4 Nov 04:00</text>
<text x="708 713 716 723 728 733 736 741 746 749 754" y="855" font-size="9.2" fill="#000" stroke="#000" stroke-width="0.22" transform="matrix(1 0 0 1.065 0 -55.575)">6 Nov 23:00</text>
<text x="772 777 780 787 792 797 800 805 810 813 818" y="855" font-size="9.2" fill="#000" stroke="#000" stroke-width="0.22" transform="matrix(1 0 0 1.065 0 -55.575)">7 Nov 12:00</text>
<text x="836 841 844 851 856 861 864 869 874 877 882" y="855" font-size="9.2" fill="#000" stroke="#000" stroke-width="0.22" transform="matrix(1 0 0 1.065 0 -55.575)">8 Nov 04:00</text>
<text x="900 905 908 915 920 925 928 933 938 941 946" y="855" font-size="9.2" fill="#000" stroke="#000" stroke-width="0.22" transform="matrix(1 0 0 1.065 0 -55.575)">8 Nov 20:00</text>
<text x="964 969 972 979 984 989 992 997 1002 1005 1010" y="855" font-size="9.2" fill="#000" stroke="#000" stroke-width="0.22" transform="matrix(1 0 0 1.065 0 -55.575)">9 Nov 12:00</text>
<text x="1028 1033 1038 1041 1048 1053 1058 1061 1066 1071 1074 1079" y="855" font-size="9.2" fill="#000" stroke="#000" stroke-width="0.22" transform="matrix(1 0 0 1.065 0 -55.575)">10 Nov 04:00</text>
<text x="1092 1097 1102 1105 1112 1117 1122 1125 1130 1135 1138 1143" y="855" font-size="9.2" fill="#000" stroke="#000" stroke-width="0.22" transform="matrix(1 0 0 1.065 0 -55.575)">10 Nov 20:00</text>
<text x="1156 1161 1166 1169 1176 1181 1186 1189 1194 1199 1202 1207" y="855" font-size="9.2" fill="#000" stroke="#000" stroke-width="0.22" transform="matrix(1 0 0 1.065 0 -55.575)">11 Nov 12:00</text>
<text x="1220 1225 1230 1233 1240 1245 1250 1253 1258 1263 1266 1271" y="855" font-size="9.2" fill="#000" stroke="#000" stroke-width="0.22" transform="matrix(1 0 0 1.065 0 -55.575)">14 Nov 04:00</text>
<text x="1284 1289 1294 1297 1304 1309 1314 1317 1322 1327 1330 1335" y="855" font-size="9.2" fill="#000" stroke="#000" stroke-width="0.22" transform="matrix(1 0 0 1.065 0 -55.575)">14 Nov 20:00</text>
</g>
<g shape-rendering="crispEdges" fill="#000"><rect x="8" y="34" width="7" height="1"/><rect x="9" y="35" width="5" height="1"/><rect x="10" y="36" width="3" height="1"/><rect x="11" y="37" width="1" height="1"/></g>
<text x="20.3 27.3 33.3 40.3 47.3 54.3 59.3 62.3 65.3 72.3 77.3 80.3 83.3 88.3 91.3 96.3 101.3 106.3 111.3 116.3 119.3 124.3 127.3 132.3 137.3 142.3 147.3 152.3 155.3 160.3 163.3 168.3 173.3 178.3 183.3 188.3 191.3 196.3 199.3 204.3 209.3 214.3 219.3" y="39" font-size="9.2" fill="#000" stroke="#000" stroke-width="0.22" transform="matrix(1 0 0 1.065 0 -2.535)">USDCHF-,H4  0.94151 0.94325 0.94105 0.94285</text>
<text x="9 17 24 31 38 41 46 51 54 59 64 67 72 75 78 81 86 89 94 99 104 109 114 119 122 125 130 133 138 143 148 153 158" y="624" font-size="9.2" fill="#000" stroke="#000" stroke-width="0.22" transform="matrix(1 0 0 1.065 0 -40.560)">MACD(12,26,9) -0.011925 -0.011782</text>
<text x="9 16 22 25 28 33 38 41 44 49 54 57 62 67 72" y="748" font-size="9.2" fill="#000" stroke="#000" stroke-width="0.22" transform="matrix(1 0 0 1.065 0 -48.620)">RSI(14) 25.6672</text>
<g shape-rendering="crispEdges" fill="#000"><rect x="1308" y="28" width="9" height="1"/><rect x="1309" y="29" width="7" height="1"/><rect x="1310" y="30" width="5" height="1"/><rect x="1311" y="31" width="3" height="1"/><rect x="1312" y="32" width="1" height="1"/></g>
<g shape-rendering="crispEdges">
<rect x="2" y="1" width="1" height="20" fill="#a0a0a0"/><rect x="3" y="1" width="1" height="20" fill="#ffffff"/>
<rect x="238" y="0" width="1" height="23" fill="#a0a0a0"/><rect x="239" y="0" width="1" height="23" fill="#ffffff"/>
<rect x="242" y="1" width="3" height="1" fill="#a6a6a6"/>
<rect x="242" y="3" width="3" height="1" fill="#a6a6a6"/>
<rect x="242" y="5" width="3" height="1" fill="#a6a6a6"/>
<rect x="242" y="7" width="3" height="1" fill="#a6a6a6"/>
<rect x="242" y="9" width="3" height="1" fill="#a6a6a6"/>
<rect x="242" y="11" width="3" height="1" fill="#a6a6a6"/>
<rect x="242" y="13" width="3" height="1" fill="#a6a6a6"/>
<rect x="242" y="15" width="3" height="1" fill="#a6a6a6"/>
<rect x="242" y="17" width="3" height="1" fill="#a6a6a6"/>
<rect x="242" y="19" width="3" height="1" fill="#a6a6a6"/>
<rect x="277" y="0" width="24" height="22" fill="url(#chk)"/>
<rect x="276" y="0" width="1" height="22" fill="#a0a0a0"/>
<rect x="301" y="0" width="1" height="22" fill="#ffffff"/>
<rect x="276" y="21" width="26" height="1" fill="#ffffff"/>
<rect x="333" y="0" width="1" height="21" fill="#a0a0a0"/><rect x="334" y="0" width="1" height="21" fill="#ffffff"/>
<rect x="423" y="0" width="1" height="21" fill="#a0a0a0"/><rect x="424" y="0" width="1" height="21" fill="#ffffff"/>
<rect x="429" y="0" width="24" height="22" fill="url(#chk)"/>
<rect x="428" y="0" width="1" height="22" fill="#a0a0a0"/>
<rect x="453" y="0" width="1" height="22" fill="#ffffff"/>
<rect x="428" y="21" width="26" height="1" fill="#ffffff"/>
<rect x="457" y="0" width="24" height="22" fill="url(#chk)"/>
<rect x="456" y="0" width="1" height="22" fill="#a0a0a0"/>
<rect x="481" y="0" width="1" height="22" fill="#ffffff"/>
<rect x="456" y="21" width="26" height="1" fill="#ffffff"/>
<rect x="485" y="0" width="1" height="21" fill="#a0a0a0"/><rect x="486" y="0" width="1" height="21" fill="#ffffff"/>
<rect x="606" y="0" width="1" height="23" fill="#a0a0a0"/><rect x="607" y="0" width="1" height="23" fill="#fff"/>
<rect x="610" y="1" width="3" height="1" fill="#a6a6a6"/>
<rect x="610" y="3" width="3" height="1" fill="#a6a6a6"/>
<rect x="610" y="5" width="3" height="1" fill="#a6a6a6"/>
<rect x="610" y="7" width="3" height="1" fill="#a6a6a6"/>
<rect x="610" y="9" width="3" height="1" fill="#a6a6a6"/>
<rect x="610" y="11" width="3" height="1" fill="#a6a6a6"/>
<rect x="610" y="13" width="3" height="1" fill="#a6a6a6"/>
<rect x="610" y="15" width="3" height="1" fill="#a6a6a6"/>
<rect x="610" y="17" width="3" height="1" fill="#a6a6a6"/>
<rect x="610" y="19" width="3" height="1" fill="#a6a6a6"/>
<rect x="617" y="0" width="24" height="22" fill="url(#chk)"/>
<rect x="616" y="0" width="1" height="22" fill="#a0a0a0"/>
<rect x="641" y="0" width="1" height="22" fill="#ffffff"/>
<rect x="616" y="21" width="26" height="1" fill="#ffffff"/>
<rect x="673" y="0" width="1" height="21" fill="#a0a0a0"/><rect x="674" y="0" width="1" height="21" fill="#ffffff"/>
<rect x="912" y="0" width="1" height="23" fill="#a0a0a0"/><rect x="913" y="0" width="1" height="23" fill="#fff"/>
<rect x="916" y="1" width="3" height="1" fill="#a6a6a6"/>
<rect x="916" y="3" width="3" height="1" fill="#a6a6a6"/>
<rect x="916" y="5" width="3" height="1" fill="#a6a6a6"/>
<rect x="916" y="7" width="3" height="1" fill="#a6a6a6"/>
<rect x="916" y="9" width="3" height="1" fill="#a6a6a6"/>
<rect x="916" y="11" width="3" height="1" fill="#a6a6a6"/>
<rect x="916" y="13" width="3" height="1" fill="#a6a6a6"/>
<rect x="916" y="15" width="3" height="1" fill="#a6a6a6"/>
<rect x="916" y="17" width="3" height="1" fill="#a6a6a6"/>
<rect x="916" y="19" width="3" height="1" fill="#a6a6a6"/>
<rect x="1063" y="0" width="24" height="22" fill="url(#chk)"/>
<rect x="1062" y="0" width="1" height="22" fill="#a0a0a0"/>
<rect x="1087" y="0" width="1" height="22" fill="#ffffff"/>
<rect x="1062" y="21" width="26" height="1" fill="#ffffff"/>
<rect x="1173" y="0" width="1" height="23" fill="#a0a0a0"/><rect x="1174" y="0" width="1" height="23" fill="#fff"/>
<rect x="517" y="10" width="5" height="1" fill="#000"/><rect x="518" y="11" width="3" height="1" fill="#000"/><rect x="519" y="12" width="1" height="1" fill="#000"/>
<rect x="556" y="10" width="5" height="1" fill="#000"/><rect x="557" y="11" width="3" height="1" fill="#000"/><rect x="558" y="12" width="1" height="1" fill="#000"/>
<rect x="595" y="10" width="5" height="1" fill="#000"/><rect x="596" y="11" width="3" height="1" fill="#000"/><rect x="597" y="12" width="1" height="1" fill="#000"/>
<rect x="901" y="10" width="5" height="1" fill="#000"/><rect x="902" y="11" width="3" height="1" fill="#000"/><rect x="903" y="12" width="1" height="1" fill="#000"/>
<g fill="#555"><rect x="256" y="5" width="1" height="14"/><rect x="254" y="16" width="14" height="1"/><rect x="255" y="6" width="3" height="1"/><rect x="254" y="7" width="5" height="1" fill-opacity="0.35"/><rect x="266" y="15" width="1" height="3"/><rect x="265" y="14" width="1" height="5" fill-opacity="0.35"/></g>
<g fill="#555"><rect x="284" y="5" width="1" height="14"/><rect x="282" y="16" width="14" height="1"/><rect x="283" y="6" width="3" height="1"/><rect x="282" y="7" width="5" height="1" fill-opacity="0.35"/><rect x="294" y="15" width="1" height="3"/><rect x="293" y="14" width="1" height="5" fill-opacity="0.35"/></g>
<g fill="#555"><rect x="312" y="5" width="1" height="14"/><rect x="310" y="16" width="14" height="1"/><rect x="311" y="6" width="3" height="1"/><rect x="310" y="7" width="5" height="1" fill-opacity="0.35"/><rect x="322" y="15" width="1" height="3"/><rect x="321" y="14" width="1" height="5" fill-opacity="0.35"/></g>
<g fill="#555"><rect x="436" y="5" width="1" height="14"/><rect x="434" y="16" width="14" height="1"/><rect x="435" y="6" width="3" height="1"/><rect x="434" y="7" width="5" height="1" fill-opacity="0.35"/><rect x="446" y="15" width="1" height="3"/><rect x="445" y="14" width="1" height="5" fill-opacity="0.35"/></g>
<g fill="#555"><rect x="464" y="5" width="1" height="14"/><rect x="462" y="16" width="14" height="1"/><rect x="463" y="6" width="3" height="1"/><rect x="462" y="7" width="5" height="1" fill-opacity="0.35"/><rect x="474" y="15" width="1" height="3"/><rect x="473" y="14" width="1" height="5" fill-opacity="0.35"/></g>
<rect x="690" y="5" width="1" height="13" fill="#505050"/>
<rect x="713" y="11" width="12" height="1" fill="#505050"/>
<rect x="656" y="4" width="1" height="6" fill="#505050"/><rect x="656" y="13" width="1" height="6" fill="#505050"/><rect x="649" y="11" width="6" height="1" fill="#505050"/><rect x="658" y="11" width="6" height="1" fill="#505050"/>
<rect x="796" y="4" width="1" height="1" fill="#505050"/>
<rect x="798" y="4" width="1" height="1" fill="#505050"/>
<rect x="800" y="4" width="1" height="1" fill="#505050"/>
<rect x="802" y="4" width="1" height="1" fill="#505050"/>
<rect x="804" y="4" width="1" height="1" fill="#505050"/>
<rect x="806" y="4" width="1" height="1" fill="#505050"/>
<rect x="808" y="4" width="1" height="1" fill="#505050"/>
<rect x="796" y="7" width="1" height="1" fill="#505050"/>
<rect x="798" y="7" width="1" height="1" fill="#505050"/>
<rect x="800" y="7" width="1" height="1" fill="#505050"/>
<rect x="802" y="7" width="1" height="1" fill="#505050"/>
<rect x="804" y="7" width="1" height="1" fill="#505050"/>
<rect x="806" y="7" width="1" height="1" fill="#505050"/>
<rect x="808" y="7" width="1" height="1" fill="#505050"/>
<rect x="796" y="11" width="1" height="1" fill="#505050"/>
<rect x="798" y="11" width="1" height="1" fill="#505050"/>
<rect x="800" y="11" width="1" height="1" fill="#505050"/>
<rect x="802" y="11" width="1" height="1" fill="#505050"/>
<rect x="804" y="11" width="1" height="1" fill="#505050"/>
<rect x="806" y="11" width="1" height="1" fill="#505050"/>
<rect x="808" y="11" width="1" height="1" fill="#505050"/>
<rect x="796" y="15" width="1" height="1" fill="#505050"/>
<rect x="798" y="15" width="1" height="1" fill="#505050"/>
<rect x="800" y="15" width="1" height="1" fill="#505050"/>
<rect x="802" y="15" width="1" height="1" fill="#505050"/>
<rect x="804" y="15" width="1" height="1" fill="#505050"/>
<rect x="853" y="5" width="1" height="1" fill="#505050"/><rect x="853" y="17" width="1" height="1" fill="#505050"/>
<rect x="855" y="5" width="1" height="1" fill="#505050"/><rect x="855" y="17" width="1" height="1" fill="#505050"/>
<rect x="857" y="5" width="1" height="1" fill="#505050"/><rect x="857" y="17" width="1" height="1" fill="#505050"/>
<rect x="859" y="5" width="1" height="1" fill="#505050"/><rect x="859" y="17" width="1" height="1" fill="#505050"/>
<rect x="861" y="5" width="1" height="1" fill="#505050"/><rect x="861" y="17" width="1" height="1" fill="#505050"/>
<rect x="863" y="5" width="1" height="1" fill="#505050"/><rect x="863" y="17" width="1" height="1" fill="#505050"/>
<rect x="865" y="5" width="1" height="1" fill="#505050"/><rect x="865" y="17" width="1" height="1" fill="#505050"/>
<rect x="853" y="7" width="1" height="1" fill="#505050"/><rect x="865" y="7" width="1" height="1" fill="#505050"/>
<rect x="853" y="9" width="1" height="1" fill="#505050"/><rect x="865" y="9" width="1" height="1" fill="#505050"/>
<rect x="853" y="11" width="1" height="1" fill="#505050"/><rect x="865" y="11" width="1" height="1" fill="#505050"/>
<rect x="853" y="13" width="1" height="1" fill="#505050"/><rect x="865" y="13" width="1" height="1" fill="#505050"/>
<rect x="853" y="15" width="1" height="1" fill="#505050"/><rect x="865" y="15" width="1" height="1" fill="#505050"/>
<rect x="852" y="4" width="2" height="1" fill="#505050"/>
</g>
<g><path d="M12.5 3.5 H20.5 L23.5 6.5 V16.5 H12.5 Z" fill="#fdfdfd" stroke="#8a8a8a" stroke-width="1"/><path d="M20.5 3.5 V6.5 H23.5" fill="none" stroke="#8a8a8a" stroke-width="1"/><path d="M14.5 6 H17.5 M14.5 9.5 H20.5 M14.5 11.5 H20.5 M14.5 13.5 H18" stroke="#9a9a9a" stroke-width="1" fill="none"/><path d="M20.5 9.5 H23.5 V13.5 H27.5 V16.5 H23.5 V20.5 H20.5 V16.5 H16.5 V13.5 H20.5 Z" fill="url(#gplus)" stroke="#069006" stroke-width="1" stroke-linejoin="round"/></g>
<g><path d="M495.5 3.5 H503.5 L506.5 6.5 V16.5 H495.5 Z" fill="#fdfdfd" stroke="#8a8a8a" stroke-width="1"/><path d="M503.5 3.5 V6.5 H506.5" fill="none" stroke="#8a8a8a" stroke-width="1"/><path d="M497.5 6 H500.5 M497.5 9.5 H503.5 M497.5 11.5 H503.5 M497.5 13.5 H501" stroke="#9a9a9a" stroke-width="1" fill="none"/><path d="M503.5 9.5 H506.5 V13.5 H510.5 V16.5 H506.5 V20.5 H503.5 V16.5 H499.5 V13.5 H503.5 Z" fill="url(#gplus)" stroke="#069006" stroke-width="1" stroke-linejoin="round"/></g>
<g stroke-linejoin="round"><path d="M84.6 4.2 L94.1 10.8 L94.8 13.3 L86.4 18.8 L79.1 13 L83.3 8.6 Q83.7 6 84.6 4.2 Z" fill="url(#gold)" stroke="#a8700a" stroke-width="1"/><path d="M94.1 10.9 L94.7 13.2 L86.5 18.6 L86.2 16.9 Z" fill="#e6d79a" stroke="#9a6408" stroke-width="0.7"/><path d="M79.4 13 L86.3 18.4 L87.3 16.6 L80.6 11.6 Z" fill="#f3d76a" fill-opacity="0.9"/><path d="M85.2 5.6 L93 11 L90.5 13 L84.2 8.5 Z" fill="#fff2a0" fill-opacity="0.45"/></g>
<g stroke-linejoin="round"><path d="M109.2 3.9 L115.4 3 L119.8 5.6 L119.8 12.5 L109.2 13 Z" fill="#1a9af6" stroke="#1a78d8" stroke-width="0.6"/><path d="M109.2 3.9 L115.4 3 L119.8 5.6 L112.9 5.8 Z" fill="#3a86e6"/><path d="M112.9 5.8 L119.8 5.6 L119.8 12.3 L112.9 12.6 Z" fill="#19a4ff"/><path d="M109.2 3.9 L112.9 5.8 L112.9 12.8" fill="none" stroke="#dff2ff" stroke-width="0.7"/><path d="M114.4 8.6 L118.6 7.4 L118.6 8.3 L114.4 9.5 Z" fill="#ffffff"/><path d="M109.8 18.6 Q107 18.4 107.3 16.2 Q107.7 14 110 14.2 Q110.6 12.9 112.2 13.3 Q113.2 11.3 115.4 11.4 Q117.6 11.4 118.6 13.3 Q120.4 12.2 121.6 13.7 Q122.2 14.6 121.9 15.3 Q123.3 15.8 123 17.2 Q122.7 18.6 120.8 18.6 Z" fill="#eef2fa" stroke="#34508e" stroke-width="1.1"/><path d="M108.6 17.8 H122 Q122.6 17.2 122.4 16.6 H108.2 Z" fill="#b8c6e0"/></g>
<g fill="none"><circle cx="143" cy="11" r="7.4" stroke="#86a6e2" stroke-width="1.1" stroke-opacity="0.75"/><circle cx="143" cy="11" r="4.8" stroke="#5f8ade" stroke-width="1.2" stroke-opacity="0.8"/><path d="M143.3 11 V19 A8 8 0 0 0 149 5.6 Z" fill="#3aa83a" fill-opacity="0.42"/><path d="M143.3 11 V19 A8 8 0 0 0 150.6 13.5 Z" fill="#2ea02e" fill-opacity="0.35"/><path d="M147.2 4.9 A7.4 7.4 0 0 1 150.3 12" stroke="#2a62b8" stroke-width="1.1" stroke-opacity="0.8"/><circle cx="143" cy="10.8" r="2.1" fill="#2252cc"/><path d="M143.6 11 V18.9" stroke="#22a022" stroke-width="1.5"/></g>
<g stroke-linejoin="round"><path d="M162.2 10.2 L177.6 9.6 L178 11.6 L171.6 18.7 L168.4 18.5 Z" fill="#ffe44e" stroke="#d2a21a" stroke-width="0.9"/><path d="M166 11 L174 10.6 L170.2 17.6 Z" fill="#fffa9a" fill-opacity="0.8"/><path d="M161.9 8.6 Q162.4 6.6 166 6.6 Q166.6 3 169.6 3 Q172.6 3 173.2 5.8 Q177.6 5.2 178 6.9 Q178 9 172 10.2 Q164.6 11.2 161.9 8.6 Z" fill="#52acdc" stroke="#2484ac" stroke-width="0.9"/><path d="M166.6 7.4 Q167 4 169.6 3.8 Q172 3.9 172.6 6.6 Q169.6 8.2 166.6 7.4 Z" fill="#8ccff0"/><circle cx="174.4" cy="14.8" r="4.1" fill="#e42408" stroke="#b41804" stroke-width="0.7"/><rect x="173" y="13.3" width="3" height="3" fill="#fff"/></g>
<g fill="none" stroke="#109010" stroke-width="1.4"><path d="M262.5 6 V14.8 M262.5 7.5 H265.2 M259.8 13.5 H262.5"/></g>
<g><rect x="290" y="3" width="1.2" height="12" fill="#109010"/><rect x="288.4" y="5.4" width="4.4" height="7.4" fill="#50e050" stroke="#0a8a0a" stroke-width="1"/></g>
<path d="M311.5 13.5 Q314.5 12 316 9.5 Q317.5 7.5 319 9 Q321 11.5 323.5 12" fill="none" stroke="#2a9a2a" stroke-width="1.3"/>
<g><path d="M351.5 13 L356.8 17.8" stroke="#c89a18" stroke-width="2.6" stroke-linecap="round"/><circle cx="348" cy="8.9" r="5.6" fill="url(#lens)" stroke="#3c86c8" stroke-width="1.3"/><path d="M345 8.9 H351 M348 5.9 V11.9" stroke="#3a86b0" stroke-width="1.7" fill="none"/></g>
<g><path d="M379.5 13 L384.8 17.8" stroke="#c89a18" stroke-width="2.6" stroke-linecap="round"/><circle cx="376" cy="8.9" r="5.6" fill="url(#lens)" stroke="#3c86c8" stroke-width="1.3"/><path d="M373 8.9 H379" stroke="#3a86b0" stroke-width="1.7" fill="none"/></g>
<g shape-rendering="crispEdges"><rect x="398" y="3" width="8" height="8" fill="#2e9a1e"/><rect x="406" y="3" width="8" height="8" fill="#1c48c8"/><rect x="398" y="11" width="8" height="8" fill="#1c48c8"/><rect x="406" y="11" width="8" height="8" fill="#2e9a1e"/><rect x="399" y="6" width="6" height="4" fill="#fff"/><rect x="407" y="6" width="6" height="4" fill="#fff"/><rect x="399" y="14" width="6" height="4" fill="#fff"/><rect x="407" y="14" width="6" height="4" fill="#fff"/><rect x="400" y="9" width="4" height="1" fill="#2e9a1e"/><rect x="408" y="9" width="4" height="1" fill="#1c48c8"/><rect x="400" y="17" width="4" height="1" fill="#1c48c8"/><rect x="408" y="17" width="4" height="1" fill="#2e9a1e"/><rect x="400" y="7" width="4" height="1" fill="#a8d8a0"/><rect x="408" y="7" width="4" height="1" fill="#a8b8f0"/><rect x="400" y="15" width="4" height="1" fill="#a8b8f0"/><rect x="408" y="15" width="4" height="1" fill="#a8d8a0"/><rect x="399" y="4" width="1" height="1" fill="#d8f0d0"/><rect x="407" y="4" width="1" height="1" fill="#d0dcff"/><rect x="399" y="12" width="1" height="1" fill="#d0dcff"/><rect x="407" y="12" width="1" height="1" fill="#d8f0d0"/></g>
<path d="M441.7 7.3 L445.3 10.6 L441.7 13.8 Z" fill="#8fe08f" stroke="#18a018" stroke-width="1.1" stroke-linejoin="round"/>
<rect x="470" y="5" width="1.2" height="10" fill="#1a6ea8"/><path d="M471.8 10.5 L475 8 V9.9 H476.5 V11.1 H475 V13 Z" fill="#d04000"/>
<g><circle cx="541.1" cy="10.9" r="6.85" fill="#fdfdfd" stroke="url(#clk)" stroke-width="2.3"/><circle cx="541.1" cy="10.9" r="8" fill="none" stroke="#0a3f9e" stroke-width="0.5" stroke-opacity="0.7"/><g stroke="#777" stroke-width="0.8"><path d="M541.1 6 V7 M541.1 14.8 V15.8 M536.2 10.9 H537.2 M545 10.9 H546 M538 7.4 L538.6 8 M544.2 7.4 L543.6 8 M538 14.4 L538.6 13.8 M544.2 14.4 L543.6 13.8"/></g><path d="M540 7.6 L541 11 L543.9 10.6" fill="none" stroke="#111" stroke-width="1.3" stroke-linejoin="round"/><rect x="540.2" y="13" width="1.8" height="0.8" fill="#7ab8ff"/></g>
<g><rect x="572.5" y="4.5" width="15" height="13" fill="#fff" stroke="#2c6ac0" stroke-width="1"/><rect x="572" y="4" width="16" height="3" fill="#3a7ac8"/><rect x="573.2" y="4.9" width="6" height="0.9" fill="#cfe4fb"/><rect x="573" y="12" width="14" height="0.9" fill="#2c6ac0"/><path d="M574.1 10.4 H576.6 L578 9.3 L580 8.3 L581.4 9.5 H583.4 L585.3 8.4" fill="none" stroke="#9c2200" stroke-width="1.2" stroke-dasharray="1.6 0.5"/><path d="M575.2 15.5 L577.7 14.5 L579.7 15.5 L582.8 13.3 L585.5 15.6" fill="none" stroke="#0e8a1c" stroke-width="1.2" stroke-dasharray="1.6 0.5"/></g>
<path d="M624.3 4 L624.3 15 L627 12.6 L629.3 17.8 L631 17 L628.8 12 L632.3 11.6 Z" fill="#4d4d4d"/>
<path d="M741 17.8 L753 5.6" stroke="#505050" stroke-width="1.2" fill="none"/>
<g stroke="#505050" fill="none"><path d="M767 13 L777 5" stroke-width="1"/><path d="M768.5 17.5 L780.5 8" stroke-width="1"/><path d="M772 18 L781 11" stroke-width="1"/><path d="M770 11 L769 17 M773 9 L772 15 M776 7 L775 13 M778.5 3.5 L778 10" stroke-width="1.1"/></g>
<text x="777.6" y="19.6" font-size="6.5" fill="#404040" font-weight="bold">E</text>
<text x="805.6" y="19.8" font-size="6.5" fill="#404040" font-weight="bold">F</text>
<text x="826.4" y="16" font-size="12.5" fill="#505050" stroke="#505050" stroke-width="0.5">A</text>
<text x="855.1" y="16" font-size="11.5" fill="#505050" stroke="#505050" stroke-width="0.6">T</text>
<g fill="#4d4d4d"><path d="M880 8.8 L884 4.8 L888 8.8 L884 10.2 Z"/><path d="M886.5 14.5 L894 14.5 L890.3 18.3 Z"/><path d="M887 12.5 H893.5 L890.3 14.6Z"/><path d="M882 11.5 L884.6 14 L889.2 9" fill="none" stroke="#4d4d4d" stroke-width="1.5"/></g>
<g><path d="M1640.6 11.8 L1636 16.2" stroke="#2a5fd0" stroke-width="2.6" stroke-linecap="round"/><circle cx="1643.7" cy="8.4" r="3.9" fill="#f4f6ff" stroke="#2a60d4" stroke-width="1.4"/></g>
<g><path d="M1660.5 12.5 Q1660.5 8.5 1666 8.5 Q1671.5 8.5 1671.5 13 Q1671.5 17 1666 17 L1664.3 17 L1663 19.5 L1662.6 16.6 Q1660.5 15.5 1660.5 12.5 Z" fill="#e4e4ee" stroke="#a8a8a8" stroke-width="1"/><circle cx="1674.5" cy="8.3" r="8.2" fill="url(#badge)"/></g>
<text x="1673.6" y="12.9" font-size="12.5" fill="#fff" text-anchor="middle" font-weight="bold" textLength="5.6" lengthAdjust="spacingAndGlyphs">1</text>
<text x="31" y="14.2" font-size="12" fill="#000" font-family='"Liberation Sans", "Noto Sans CJK SC", sans-serif' stroke="#000" stroke-width="0.3">新订单</text>
<text x="183.4" y="14.2" font-size="12" fill="#000" font-family='"Liberation Sans", "Noto Sans CJK SC", sans-serif' stroke="#000" stroke-width="0.3">自动交易</text>
<text x="927.2 935.2" y="15" font-size="9.2" fill="#404040" stroke="#404040" stroke-width="0.08" transform="matrix(1 0 0 1.065 0 -0.975)">M1</text>
<text x="955.3 963.3" y="15" font-size="9.2" fill="#404040" stroke="#404040" stroke-width="0.08" transform="matrix(1 0 0 1.065 0 -0.975)">M5</text>
<text x="981.2 989.2 994.2" y="15" font-size="9.2" fill="#404040" stroke="#404040" stroke-width="0.08" transform="matrix(1 0 0 1.065 0 -0.975)">M15</text>
<text x="1009.4 1017.4 1022.4" y="15" font-size="9.2" fill="#404040" stroke="#404040" stroke-width="0.08" transform="matrix(1 0 0 1.065 0 -0.975)">M30</text>
<text x="1040.4 1047.4" y="15" font-size="9.2" fill="#404040" stroke="#404040" stroke-width="0.08" transform="matrix(1 0 0 1.065 0 -0.975)">H1</text>
<text x="1067.2 1074.2" y="15" font-size="9.2" fill="#404040" stroke="#404040" stroke-width="0.08" transform="matrix(1 0 0 1.065 0 -0.975)">H4</text>
<text x="1096.3 1103.3" y="15" font-size="9.2" fill="#404040" stroke="#404040" stroke-width="0.08" transform="matrix(1 0 0 1.065 0 -0.975)">D1</text>
<text x="1123.5 1131.5" y="15" font-size="9.2" fill="#404040" stroke="#404040" stroke-width="0.08" transform="matrix(1 0 0 1.065 0 -0.975)">W1</text>
<text x="1150.4 1158.4" y="15" font-size="9.2" fill="#404040" stroke="#404040" stroke-width="0.08" transform="matrix(1 0 0 1.065 0 -0.975)">MN</text>
</svg></body></html>
